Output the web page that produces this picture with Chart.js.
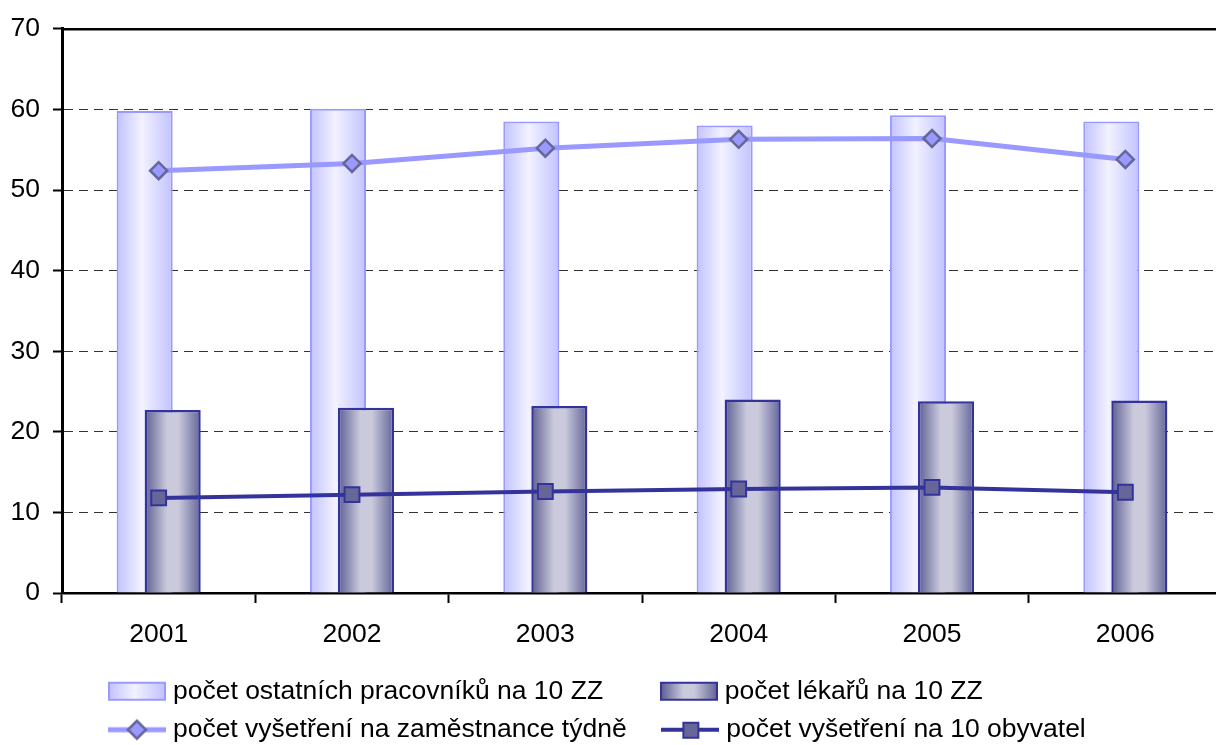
<!DOCTYPE html>
<html>
<head>
<meta charset="utf-8">
<script src="https://cdn.jsdelivr.net/npm/chart.js"></script>
<style>
  html, body { margin: 0; padding: 0; background: #fff; overflow: hidden; }
  canvas { display: block; }
</style>
</head>
<body>
<canvas id="myChart" width="1224" height="753"></canvas>
<script>
var years = ['2001', '2002', '2003', '2004', '2005', '2006'];
var ostatniPracovnici = [59.8, 60.1, 58.5, 58.0, 59.3, 58.5];
var lekari = [22.7, 23.0, 23.2, 24.0, 23.8, 23.9];
var vysetreniNaZamestnance = [52.4, 53.3, 55.2, 56.3, 56.4, 53.8];
var vysetreniNa10Obyvatel = [11.8, 12.2, 12.6, 12.9, 13.1, 12.5];
var yTicks = [0, 10, 20, 30, 40, 50, 60, 70];
var seriesNames = [
    'počet ostatních pracovníků na 10 ZZ',
    'počet lékařů na 10 ZZ',
    'počet vyšetření na zaměstnance týdně',
    'počet vyšetření na 10 obyvatel'
];

Chart.defaults.font.family = "'Liberation Sans', Arial, sans-serif";
Chart.defaults.font.size = 26.5;
Chart.defaults.color = '#000';

var lightStops = [[0, '#c2c2ff'], [0.45, '#f2f2ff'], [1, '#c2c2ff']];
var darkStops = [[0, '#5e5e92'], [0.4, '#cacadc'], [0.6, '#cacadc'], [1, '#64649a']];

// gradient across each bar, needs the element position so the chart is updated twice
function barGradient(stops, fallback) {
    return function (c) {
        var el = c.element;
        if (!el || !isFinite(el.x) || !el.width) return fallback;
        var g = c.chart.ctx.createLinearGradient(el.x - el.width / 2, 0, el.x + el.width / 2, 0);
        stops.forEach(function (s) { g.addColorStop(s[0], s[1]); });
        return g;
    };
}

// legend symbols
function symbol(kind) {
    var cv = document.createElement('canvas');
    cv.width = 58; cv.height = 26;
    var c = cv.getContext('2d');
    if (kind === 'light' || kind === 'dark') {
        var g = c.createLinearGradient(1, 0, 57, 0);
        (kind === 'light' ? lightStops : darkStops).forEach(function (s) { g.addColorStop(s[0], s[1]); });
        c.fillStyle = g;
        c.fillRect(1, 4, 56, 17);
        c.lineWidth = 2;
        c.strokeStyle = kind === 'light' ? '#9999ff' : '#333399';
        c.strokeRect(1, 4, 56, 17);
    } else if (kind === 'diamond') {
        c.strokeStyle = '#9999ff'; c.lineWidth = 5;
        c.beginPath(); c.moveTo(0, 13); c.lineTo(58, 13); c.stroke();
        c.beginPath();
        c.moveTo(29 - 9, 13); c.lineTo(29, 4); c.lineTo(29 + 9, 13); c.lineTo(29, 22); c.closePath();
        c.fillStyle = '#9999ff'; c.fill();
        c.lineWidth = 2.5; c.strokeStyle = '#666699'; c.stroke();
    } else {
        c.strokeStyle = '#333399'; c.lineWidth = 4;
        c.beginPath(); c.moveTo(0, 13); c.lineTo(58, 13); c.stroke();
        c.fillStyle = '#666699'; c.fillRect(22, 6, 15, 15);
        c.lineWidth = 2; c.strokeStyle = '#333399'; c.strokeRect(22, 6, 15, 15);
    }
    return cv;
}
var legendSymbols = [symbol('light'), symbol('dark'), symbol('diamond'), symbol('square')];
// trailing spaces keep the two legend columns lined up
var legendPad = [7, 17, 4, 3];

// draw bars before lines, left bar under right bar
var drawOrder = {
    id: 'drawOrder',
    beforeDatasetDraw: function () { return false; },
    afterDatasetsDraw: function (chart) {
        chart.data.datasets.forEach(function (ds, i) {
            var meta = chart.getDatasetMeta(i);
            if (meta.visible) meta.controller.draw();
        });
    }
};

function noSidePadding(s) {
    s.paddingLeft = 0;
    s.paddingRight = 0;
}

var ctx = document.getElementById('myChart').getContext('2d');
var myChart = new Chart(ctx, {
    type: 'bar',
    data: {
        labels: years,
        datasets: [{
            label: seriesNames[0],
            data: ostatniPracovnici,
            backgroundColor: barGradient(lightStops, '#dcdcff'),
            borderColor: '#9999ff',
            borderWidth: 2,
            categoryPercentage: 0.29,
            barPercentage: 2.0
        }, {
            label: seriesNames[1],
            data: lekari,
            backgroundColor: barGradient(darkStops, '#9999bb'),
            borderColor: '#333399',
            borderWidth: 2.5,
            categoryPercentage: 0.29,
            barPercentage: 2.0
        }, {
            type: 'line',
            label: seriesNames[2],
            data: vysetreniNaZamestnance,
            borderColor: '#9999ff',
            borderWidth: 5,
            tension: 0,
            pointStyle: 'rectRot',
            pointRadius: 8.5,
            pointBackgroundColor: '#9999ff',
            pointBorderColor: '#666699',
            pointBorderWidth: 2.5
        }, {
            type: 'line',
            label: seriesNames[3],
            data: vysetreniNa10Obyvatel,
            borderColor: '#333399',
            borderWidth: 4,
            tension: 0,
            pointStyle: 'rect',
            pointRadius: 10.5,
            pointBackgroundColor: '#666699',
            pointBorderColor: '#333399',
            pointBorderWidth: 2
        }]
    },
    options: {
        responsive: false,
        animation: false,
        events: [],
        layout: { autoPadding: false, padding: { top: 26, right: 2, left: 0, bottom: 0 } },
        plugins: {
            tooltip: { enabled: false },
            legend: {
                position: 'bottom',
                labels: {
                    usePointStyle: true,
                    pointStyleWidth: 45.5,
                    boxHeight: 26.5,
                    padding: 11.5,
                    font: { size: 26.5 },
                    color: '#000',
                    generateLabels: function (chart) {
                        return chart.data.datasets.map(function (ds, i) {
                            return {
                                text: ds.label + ' '.repeat(legendPad[i]),
                                pointStyle: legendSymbols[i],
                                fillStyle: 'transparent',
                                strokeStyle: 'transparent',
                                fontColor: '#000',
                                lineWidth: 0,
                                hidden: false,
                                rotation: 0,
                                datasetIndex: i
                            };
                        });
                    }
                }
            }
        },
        scales: {
            x: {
                position: 'bottom',
                offset: true,
                grid: {
                    offset: true,
                    drawOnChartArea: false,
                    drawTicks: true,
                    tickLength: 10,
                    tickColor: '#000',
                    tickWidth: 2
                },
                border: { color: '#000', width: 2.5 },
                ticks: { padding: 16, color: '#000', font: { size: 26.5 } },
                afterFit: function (s) { s.height = 74; noSidePadding(s); }
            },
            x2: {
                type: 'category',
                position: 'top',
                labels: years,
                grid: { display: false },
                ticks: { display: false },
                border: { display: true, color: '#000', width: 2.5 },
                afterFit: function (s) { s.height = 0; noSidePadding(s); }
            },
            y: {
                min: 0,
                max: 70,
                afterBuildTicks: function (s) {
                    s.ticks = yTicks.map(function (v) { return { value: v }; });
                },
                grid: {
                    color: '#333',
                    lineWidth: 1,
                    drawTicks: true,
                    tickLength: 9,
                    tickColor: '#000',
                    tickWidth: 2
                },
                border: { color: '#000', width: 3, dash: [9, 6] },
                ticks: { padding: 13, color: '#000', font: { size: 26.5 } },
                afterFit: function (s) { s.width = 62; }
            }
        }
    },
    plugins: [drawOrder]
});
myChart.update();
</script>
</body>
</html>
